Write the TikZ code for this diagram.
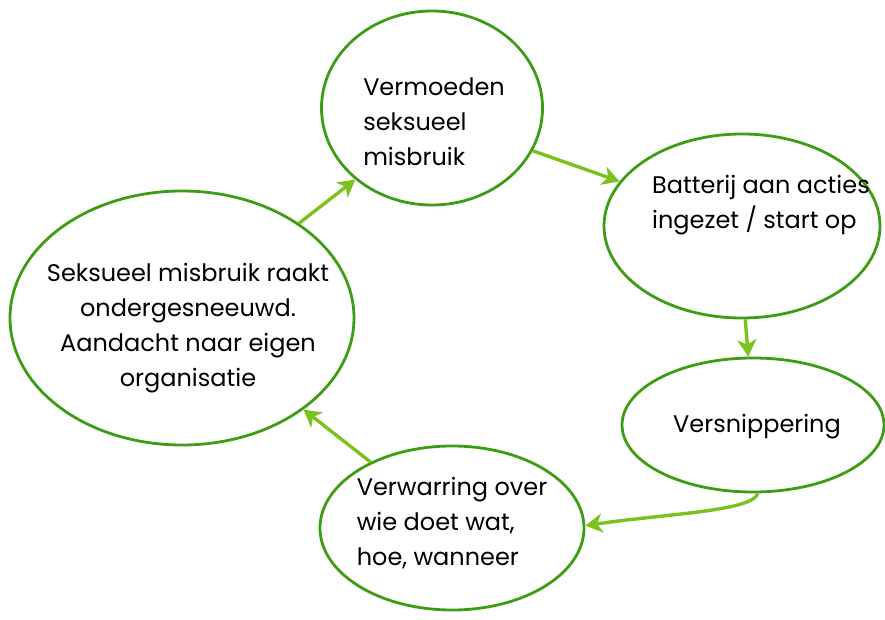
\documentclass[tikz,border=0pt]{standalone}
\usepackage{fontspec}
\setmainfont{Poppins}
\usetikzlibrary{shapes.geometric,arrows.meta}
\definecolor{ringgreen}{RGB}{62,156,22}
\definecolor{arrowgreen}{RGB}{124,194,28}

\begin{document}
\begin{tikzpicture}[x=1pt,y=-1pt,
	cycle/.style={draw=ringgreen,line width=2.8pt,ellipse,fill=white},
	txt/.style={font=\fontsize{24}{35}\selectfont,text=black,inner sep=0pt},
	flow/.style={draw=arrowgreen,line width=3.4pt,-{Stealth[length=17pt,width=19pt,inset=5pt]}}]
	\useasboundingbox (0,0) rectangle (885,620); % cadre
	\node[cycle,minimum width=221pt,minimum height=194pt] (verm) at (432,108) {};
	\node[cycle,minimum width=276pt,minimum height=184pt] (batt) at (742,226) {};
	\node[cycle,minimum width=262pt,minimum height=134pt] (vers) at (753,425) {};
	\node[cycle,minimum width=264pt,minimum height=164pt] (verw) at (452,528) {};
	\node[cycle,minimum width=344pt,minimum height=254pt] (seks) at (182,318) {};
	
	\node[txt,align=left] (vermT) at (434,122) {Vermoeden\\seksueel\\misbruik};
	\node[txt,align=left] (battT) at (761,205) {Batterij aan acties\\ingezet / start op};
	\node[txt] (versT) at (757,427) {Versnippering};
	\node[txt,align=left] (verwT) at (452,523) {Verwarring over\\wie doet wat,\\hoe, wanneer};
	\node[txt,align=center] (seksT) at (188,328) {Seksueel misbruik raakt\\ondergesneeuwd.\\Aandacht naar eigen\\organisatie};
	
	\draw[flow] (verm.-23) -- (batt.160); % vers la droite
	\draw[flow] (batt.-88) -- (vers.94);
	\draw[flow] (vers.-86) .. controls +(-5,18) and +(80,-12) .. (verw.1);
	\draw[flow] (verw.141) -- (seks.-37);
	\draw[flow] (seks.39) -- (verm.223);
\end{tikzpicture}
\end{document}
